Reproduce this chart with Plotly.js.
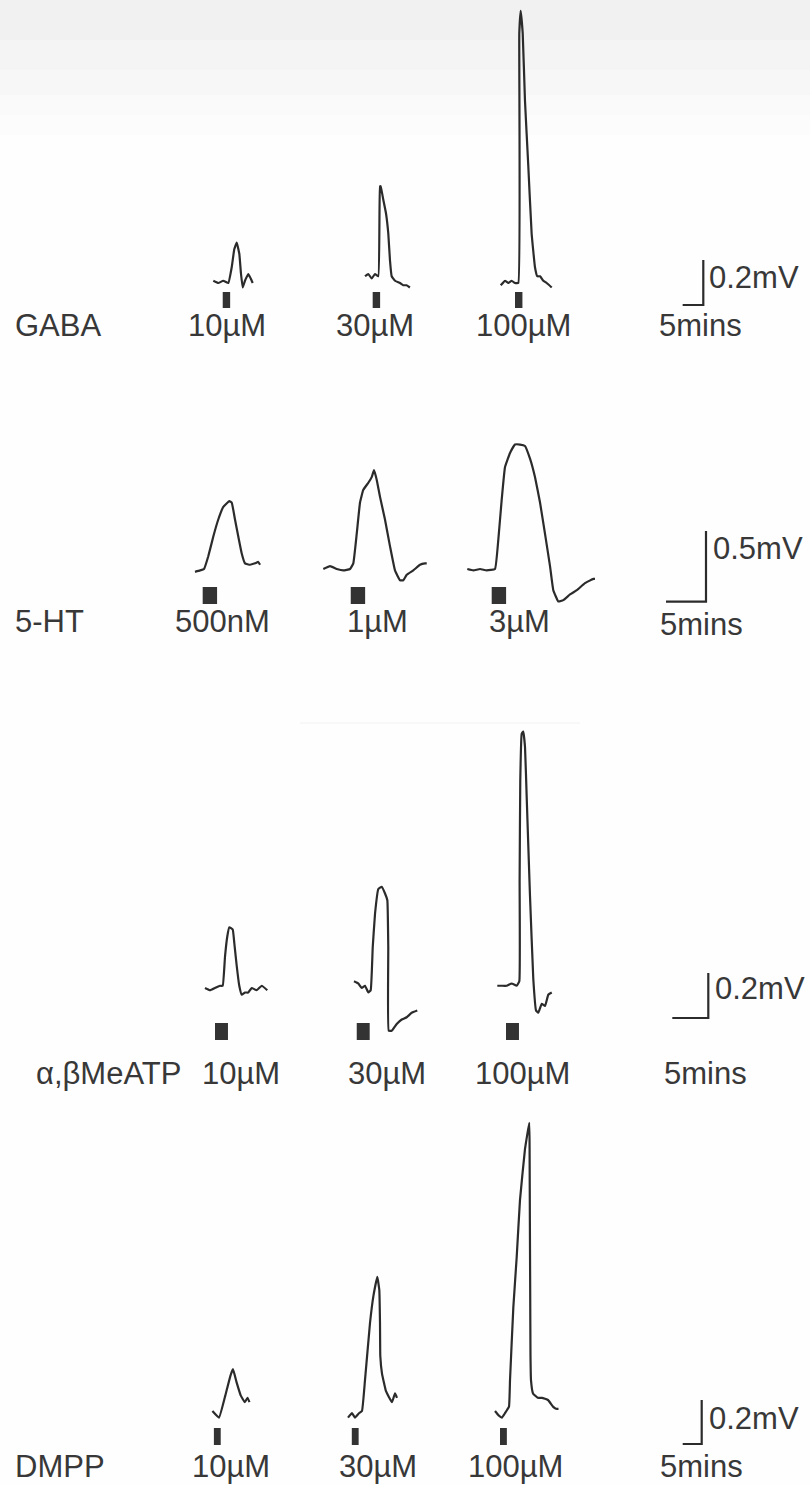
<!DOCTYPE html>
<html>
<head>
<meta charset="utf-8">
<script src="https://cdn.plot.ly/plotly-3.0.1.min.js"></script>
<style>
html,body{margin:0;padding:0;background:#ffffff;}
#chart{width:810px;height:1485px;}
</style>
</head>
<body>
<div id="chart"></div>
<script>
// ================= DATA (time in minutes after trace start, response in mV) =================
const rowNames = ['GABA', '5-HT', 'α,βMeATP', 'DMPP'];

const gabaConc = ['10µM', '30µM', '100µM'];
const gaba10_t  = [0, 1.21, 2.42, 3.63, 4.46, 5.08, 5.67, 6.30, 6.71, 7.12, 7.67, 8.47, 9.06, 9.54];
const gaba10_v  = [0.01, 0.0, 0.01, 0.0, 0.07, 0.15, 0.18, 0.13, 0.04, -0.02, 0.01, 0.04, 0.02, 0.0];
const gaba30_t  = [0, 0.80, 1.62, 2.42, 3.22, 3.63, 3.80, 4.43, 5.08, 5.64, 6.05, 6.46, 7.26, 8.47, 9.27, 10.07, 10.87];
const gaba30_v  = [0.03, 0.04, 0.02, 0.04, 0.03, 0.43, 0.43, 0.37, 0.31, 0.22, 0.10, 0.03, 0.01, 0.0, -0.01, -0.01, -0.02];
const gaba100_t = [0, 1.04, 1.84, 2.66, 3.46, 4.26, 4.50, 4.84, 5.33, 5.88, 6.68, 7.49, 8.30, 8.86, 9.52, 10.31, 11.14, 12.35];
const gaba100_v = [-0.01, 0.01, 0.0, 0.01, 0.0, 0.0, 1.11, 1.21, 1.11, 0.81, 0.52, 0.22, 0.07, 0.03, 0.03, 0.01, 0.0, -0.02];
const gabaApp   = [2.28, 1.86, 3.46];

const htConc = ['500nM', '1µM', '3µM'];
const ht500_t = [0, 0.63, 1.13, 1.66, 2.29, 2.91, 3.54, 4.29, 4.59, 5.0, 5.41, 5.84, 6.25, 6.88, 7.5, 7.91, 8.13];
const ht500_v = [-0.02, -0.01, 0.0, 0.09, 0.23, 0.35, 0.44, 0.48, 0.47, 0.35, 0.23, 0.11, 0.04, 0.03, 0.04, 0.05, 0.03];
const ht1_t   = [0, 0.84, 1.68, 2.50, 3.34, 3.75, 4.18, 4.59, 5.0, 5.63, 6.05, 6.34, 6.68, 7.09, 7.71, 8.34, 8.96, 9.59, 10.0, 10.43, 11.25, 12.09, 12.71, 12.93];
const ht1_v   = [0.0, 0.02, 0.0, -0.01, 0.0, 0.04, 0.25, 0.47, 0.56, 0.61, 0.65, 0.70, 0.63, 0.51, 0.35, 0.16, -0.01, -0.08, -0.08, -0.04, -0.01, 0.03, 0.04, 0.04];
const ht3_t   = [0, 0.75, 1.59, 2.43, 3.46, 3.88, 4.30, 4.71, 5.34, 5.96, 6.59, 7.21, 7.84, 8.46, 9.09, 9.71, 10.34, 10.75, 11.38, 12.0, 12.84, 13.68, 14.71, 15.75, 15.96];
const ht3_v   = [0.0, -0.01, 0.0, -0.01, 0.0, 0.21, 0.49, 0.72, 0.82, 0.88, 0.88, 0.87, 0.78, 0.65, 0.47, 0.25, 0.02, -0.15, -0.23, -0.22, -0.18, -0.15, -0.10, -0.07, -0.07];
const htApp   = [0.96, 3.43, 3.05];

const atpConc = ['10µM', '30µM', '100µM'];
const atp10_t  = [0, 0.69, 1.39, 2.08, 2.46, 2.78, 3.10, 3.38, 3.85, 4.07, 4.40, 4.76, 5.10, 5.56, 6.01, 6.49, 7.18, 7.88, 8.65];
const atp10_v  = [0.0, -0.01, 0.0, 0.01, 0.01, 0.14, 0.23, 0.27, 0.26, 0.20, 0.10, 0.01, -0.03, -0.02, -0.02, 0.0, -0.01, 0.01, -0.01];
const atp30_t  = [0, 0.60, 1.07, 1.53, 1.99, 2.32, 2.60, 2.92, 3.38, 3.85, 4.31, 4.63, 4.76, 4.82, 5.24, 5.93, 6.63, 7.32, 8.01, 8.79];
const atp30_v  = [0.03, 0.02, 0.0, 0.01, -0.02, -0.01, 0.18, 0.33, 0.44, 0.45, 0.42, 0.39, 0.18, -0.19, -0.19, -0.16, -0.14, -0.13, -0.11, -0.10];
const atp100_t = [0, 0.61, 1.31, 2.0, 2.69, 3.06, 3.10, 3.19, 3.39, 3.61, 3.85, 4.08, 4.54, 5.0, 5.38, 5.69, 6.17, 6.63, 7.08, 7.56];
const atp100_v = [0.01, 0.01, 0.01, 0.02, 0.01, 0.03, 0.48, 0.92, 1.13, 1.14, 1.07, 0.85, 0.41, 0.04, -0.10, -0.11, -0.07, -0.08, -0.03, -0.02];
const atpApp   = [1.39, 0.38, 1.21];

const dmppConc = ['10µM', '30µM', '100µM'];
const dmpp10_t  = [0, 1.74, 3.39, 4.74, 5.42, 6.37, 7.47, 8.55, 9.24, 9.76];
const dmpp10_v  = [0.0, -0.03, 0.07, 0.16, 0.19, 0.13, 0.07, 0.04, 0.06, 0.04];
const dmpp30_t  = [0, 1.05, 1.84, 2.89, 3.68, 4.47, 5.79, 6.66, 7.71, 8.24, 8.42, 8.50, 8.95, 10.0, 11.58, 12.37, 12.89];
const dmpp30_v  = [-0.03, -0.01, -0.03, -0.01, 0.0, 0.14, 0.40, 0.52, 0.61, 0.55, 0.40, 0.25, 0.17, 0.09, 0.04, 0.08, 0.06];
const dmpp100_t = [0, 0.95, 1.84, 2.63, 3.68, 3.95, 4.82, 5.71, 6.58, 7.89, 9.03, 9.11, 9.18, 9.26, 9.34, 9.47, 10.0, 11.24, 12.37, 13.95, 15.26, 16.05, 16.71];
const dmpp100_v = [0.0, -0.02, -0.03, -0.01, 0.02, 0.14, 0.47, 0.70, 0.96, 1.19, 1.31, 1.16, 0.86, 0.55, 0.25, 0.14, 0.08, 0.06, 0.06, 0.05, 0.02, 0.01, 0.01];
const dmppApp   = [0.39, 1.0, 1.32];

const appDuration = 1.8;                 // minutes of drug application (black bar)
const scaleBarV   = [0.2, 0.5, 0.2, 0.2]; // mV
const scaleBarT   = [5, 5, 5, 5];         // minutes
const scaleBarVLabel = ['0.2mV', '0.5mV', '0.2mV', '0.2mV'];
const scaleBarTLabel = '5mins';

// ================= LAYOUT / STYLE =================
const W = 810, H = 1485;
const INK = '#2b2b2b', TXT = '#383838';
const FONT = {family: '"Liberation Sans", Arial, sans-serif', size: 31, color: TXT};

const rows = [
  {series: [[gaba10_t, gaba10_v], [gaba30_t, gaba30_v], [gaba100_t, gaba100_v]], app: gabaApp, conc: gabaConc,
   pxPerMin: 4.13, pxPerMv: 225, baseY: 283, startX: [213.3, 365, 500.7], markY: [292, 308],
   barCorner: [703.3, 305], labelY: 325, concX: [227, 375, 523], tLabel: [700, 326], vLabel: [707, 277], nameX: 13, nameAnchor: 'left'},
  {series: [[ht500_t, ht500_v], [ht1_t, ht1_v], [ht3_t, ht3_v]], app: htApp, conc: htConc,
   pxPerMin: 8, pxPerMv: 141.4, baseY: 569, startX: [195, 323.3, 467.3], markY: [587, 604],
   barCorner: [706, 601.7], labelY: 621, concX: [222, 377, 519], tLabel: [701, 624], vLabel: [711, 548], nameX: 13, nameAnchor: 'left'},
  {series: [[atp10_t, atp10_v], [atp30_t, atp30_v], [atp100_t, atp100_v]], app: atpApp, conc: atpConc,
   pxPerMin: 7.2, pxPerMv: 225, baseY: 988, startX: [205, 354, 497.3], markY: [1023, 1040],
   barCorner: [708.3, 1018], labelY: 1073, concX: [241, 387, 522], tLabel: [705, 1073], vLabel: [713, 988], nameX: 183, nameAnchor: 'right'},
  {series: [[dmpp10_t, dmpp10_v], [dmpp30_t, dmpp30_v], [dmpp100_t, dmpp100_v]], app: dmppApp, conc: dmppConc,
   pxPerMin: 3.8, pxPerMv: 220, baseY: 1411, startX: [212.4, 348, 495], markY: [1428, 1445],
   barCorner: [701.7, 1444], labelY: 1466, concX: [231, 378, 515], tLabel: [701, 1466], vLabel: [707, 1418], nameX: 13, nameAnchor: 'left'}
];

const px = x => x / W;
const py = y => 1 - y / H;

const data = [];
const shapes = [];
// faint scanner tint at the top of the page (soft fade)
const tintSteps = [[0, 40, 0.012], [0, 70, 0.012], [0, 95, 0.010], [0, 115, 0.008], [0, 135, 0.006]];
tintSteps.forEach(s => shapes.push({type: 'rect', xref: 'paper', yref: 'paper', x0: 0, x1: 1,
  y0: py(s[1]), y1: py(s[0]), fillcolor: 'rgba(0,0,0,' + s[2] + ')', line: {width: 0}, layer: 'below'}));
// faint scan streak
shapes.push({type: 'line', xref: 'paper', yref: 'paper', x0: px(300), x1: px(580), y0: py(723), y1: py(723),
  line: {color: 'rgba(0,0,0,0.025)', width: 2}, layer: 'below'});

const annotations = [];
const layout = {
  width: W, height: H,
  margin: {l: 0, r: 0, t: 0, b: 0},
  paper_bgcolor: '#fefefe', plot_bgcolor: 'rgba(0,0,0,0)',
  showlegend: false, shapes: shapes, annotations: annotations
};

rows.forEach((r, i) => {
  const k = i + 1;
  const xa = k === 1 ? 'x' : 'x' + k, ya = k === 1 ? 'y' : 'y' + k;
  const xName = k === 1 ? 'xaxis' : 'xaxis' + k, yName = k === 1 ? 'yaxis' : 'yaxis' + k;
  layout[xName] = {domain: [0, 1], range: [0, W / r.pxPerMin], visible: false, fixedrange: true, anchor: ya};
  layout[yName] = {domain: [0, 1], range: [-(H - r.baseY) / r.pxPerMv, r.baseY / r.pxPerMv], visible: false, fixedrange: true, anchor: xa};

  r.series.forEach((s, j) => {
    const t0 = r.startX[j] / r.pxPerMin;
    data.push({
      type: 'scatter', mode: 'lines', xaxis: xa, yaxis: ya,
      x: s[0].map(t => t + t0), y: s[1],
      line: {color: INK, width: 2.2, shape: 'spline', smoothing: 0.3},
      hoverinfo: 'skip'
    });
    // drug application bar
    shapes.push({type: 'rect', xref: xa, yref: 'paper',
      x0: t0 + r.app[j], x1: t0 + r.app[j] + appDuration,
      y0: py(r.markY[1]), y1: py(r.markY[0]),
      fillcolor: '#333333', line: {width: 0}});
    annotations.push({xref: 'paper', yref: 'paper', x: px(r.concX[j]), y: py(r.labelY),
      text: r.conc[j], showarrow: false, xanchor: 'center', yanchor: 'middle', font: FONT});
  });

  // scale bar
  const cx = r.barCorner[0] / r.pxPerMin;
  const cy = (r.baseY - r.barCorner[1]) / r.pxPerMv;
  data.push({
    type: 'scatter', mode: 'lines', xaxis: xa, yaxis: ya,
    x: [cx - scaleBarT[i], cx, cx], y: [cy, cy, cy + scaleBarV[i]],
    line: {color: INK, width: 2.2}, hoverinfo: 'skip'
  });
  annotations.push({xref: 'paper', yref: 'paper', x: px(r.vLabel[0]), y: py(r.vLabel[1]),
    text: scaleBarVLabel[i], showarrow: false, xanchor: 'left', yanchor: 'middle', font: FONT});
  annotations.push({xref: 'paper', yref: 'paper', x: px(r.tLabel[0]), y: py(r.tLabel[1]),
    text: scaleBarTLabel, showarrow: false, xanchor: 'center', yanchor: 'middle', font: FONT});
  // row name
  annotations.push({xref: 'paper', yref: 'paper', x: px(r.nameX), y: py(r.labelY),
    text: rowNames[i], showarrow: false, xanchor: r.nameAnchor, yanchor: 'middle', font: FONT});
});

Plotly.newPlot('chart', data, layout, {staticPlot: true, displayModeBar: false});
</script>
</body>
</html>
